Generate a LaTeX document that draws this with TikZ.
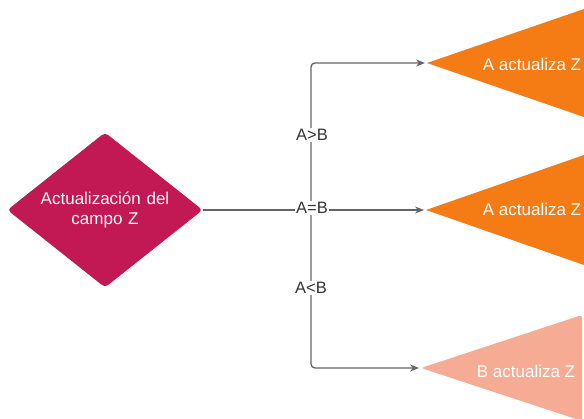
\documentclass[tikz,border=0pt]{standalone}
\usepackage{fontspec}
\setmainfont{Liberation Sans}
\usetikzlibrary{shapes.geometric,arrows.meta}
\definecolor{crim}{RGB}{194,24,83}
\definecolor{orng}{RGB}{245,123,21}
\definecolor{salm}{RGB}{246,172,148}
\definecolor{lgray}{RGB}{100,100,100}
\definecolor{tgray}{RGB}{51,51,51}
\tikzset{
  conn/.style={draw=lgray,line width=1.3pt,-{Stealth[length=9pt,width=7pt]},rounded corners=4pt},
  lab/.style={fill=white,text=tgray,inner sep=1.5pt,font=\fontsize{16.5}{18}\selectfont},
  wtext/.style={text=white,font=\fontsize{17}{20}\selectfont},
  dtext/.style={text=white,font=\fontsize{17}{20}\selectfont},
}
\begin{document}
\begin{tikzpicture}[x=1pt,y=-1pt]
\useasboundingbox (0,0) rectangle (584,419);
% diamond
\node[shape=diamond,fill=crim,rounded corners=4pt,minimum width=190pt,minimum height=151pt,inner sep=0pt,aspect=1.26,align=center,dtext,text width=150pt] (d) at (105,210) {Actualización del\\campo Z};
% triangles
\coordinate (t1) at (427,63);
\coordinate (t2) at (426,210);
\coordinate (t3) at (421,368);
\fill[orng] (t1) -- (584,9) -- (584,117) -- cycle;
\fill[orng] (t2) -- (584,155) -- (584,265) -- cycle;
\fill[salm,rounded corners=3pt] (t3) -- (582,315) -- (582,421) -- cycle;
\node[wtext] (n1) at (532,64) {A actualiza Z};
\node[wtext] (n2) at (532,209) {A actualiza Z};
\node[wtext] (n3) at (526,371) {B actualiza Z};
% connectors
\coordinate (j) at (311,210);
\draw[conn] (d.east) -- ([xshift=-2pt]t2);
\draw[conn] (j) |- ([xshift=-2pt]t1);
\draw[conn] (j) |- ([xshift=-2pt]t3);
% labels
\node[lab] (l1) at (312,135) {A>B};
\node[lab] (l2) at (312,208) {A=B};
\node[lab] (l3) at (311,288) {A<B};
\end{tikzpicture}
\end{document}
